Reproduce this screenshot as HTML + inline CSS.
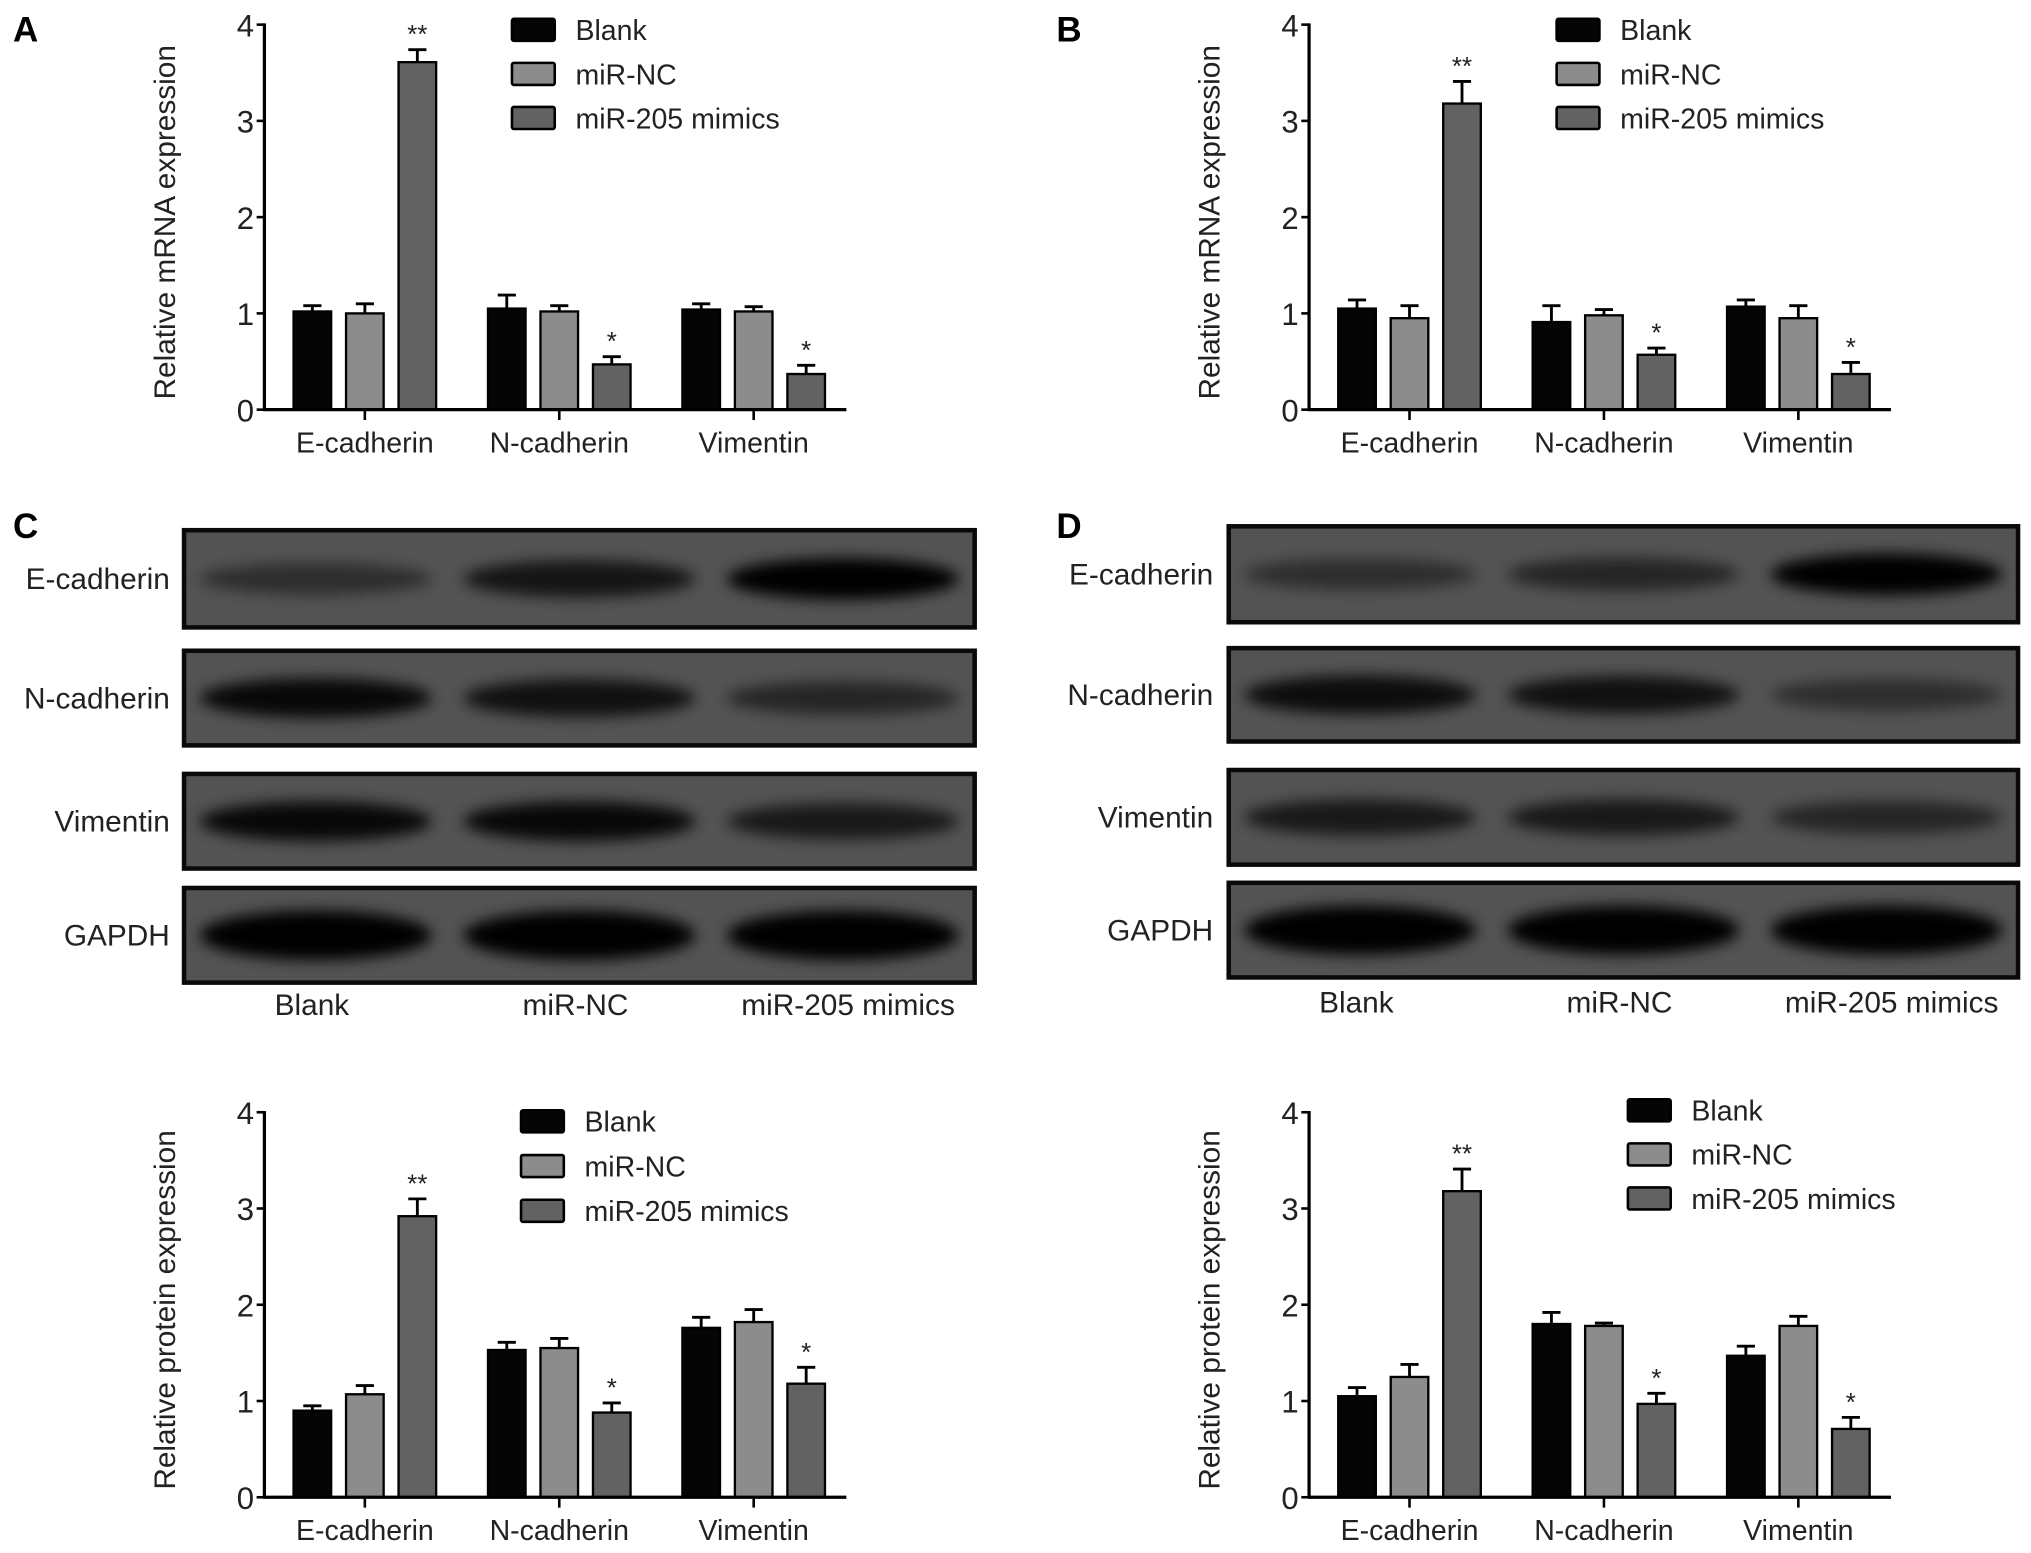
<!DOCTYPE html>
<html><head><meta charset="utf-8">
<style>
html,body{margin:0;padding:0;background:#fff;}
svg{display:block;font-family:"Liberation Sans",Arial,sans-serif;}
</style></head>
<body>
<svg id="fig" width="2031" height="1553" viewBox="0 0 1567 1198" preserveAspectRatio="none" xmlns="http://www.w3.org/2000/svg">
<defs>
<filter id="blur" x="-30%" y="-100%" width="160%" height="300%"><feGaussianBlur stdDeviation="5.5"/></filter>
</defs>
<g id="root"></g>
</svg>
<script>
// ---- shared categories ----
const categories = ["E-cadherin","N-cadherin","Vimentin"];
const seriesNames = ["Blank","miR-NC","miR-205 mimics"];
const yTicks = [0,1,2,3,4];

// ---- Panel A (mRNA) ----
const aBlank = [1.02,1.05,1.04];
const aNC = [1.00,1.02,1.02];
const aMimic = [3.61,0.47,0.37];
const aBlankErr = [1.08,1.19,1.10];
const aNCErr = [1.10,1.08,1.07];
const aMimicErr = [3.74,0.55,0.46];
const aStars = ["**","*","*"];

// ---- Panel B (mRNA) ----
const bBlank = [1.05,0.91,1.07];
const bNC = [0.95,0.98,0.95];
const bMimic = [3.18,0.57,0.37];
const bBlankErr = [1.14,1.08,1.14];
const bNCErr = [1.08,1.04,1.08];
const bMimicErr = [3.41,0.64,0.49];
const bStars = ["**","*","*"];

// ---- Panel C (protein) ----
const cBlank = [0.90,1.53,1.76];
const cNC = [1.07,1.55,1.82];
const cMimic = [2.92,0.88,1.18];
const cBlankErr = [0.95,1.61,1.87];
const cNCErr = [1.16,1.65,1.95];
const cMimicErr = [3.10,0.98,1.35];
const cStars = ["**","*","*"];

// ---- Panel D (protein) ----
const dBlank = [1.05,1.80,1.47];
const dNC = [1.25,1.78,1.78];
const dMimic = [3.18,0.97,0.71];
const dBlankErr = [1.14,1.92,1.57];
const dNCErr = [1.38,1.81,1.88];
const dMimicErr = [3.41,1.08,0.83];
const dStars = ["**","*","*"];

// ---- blot band intensities (rows: E-cad, N-cad, Vimentin, GAPDH; cols: lanes) ----
const blotRows = ["E-cadherin","N-cadherin","Vimentin","GAPDH"];
const blotLanes = ["Blank","miR-NC","miR-205 mimics"];
const cBands = [[0.45,0.75,1],[0.9,0.8,0.55],[0.9,0.9,0.7],[1,1,1]];
const dBands = [[0.45,0.55,1],[0.85,0.8,0.45],[0.7,0.7,0.55],[1,1,1]];

const NS = "http://www.w3.org/2000/svg";
const root = document.getElementById("root");
function mk(tag, attrs, parent){
  const e = document.createElementNS(NS, tag);
  for (const k in attrs) e.setAttribute(k, attrs[k]);
  (parent||root).appendChild(e);
  return e;
}
const fills = ["#050505","#8c8c8c","#626262"];

function chart(name, ax, base, ylabel, series, errs, stars, leg){
  const g = mk("g", {});
  
  
  const H = 297, ppu = H/4;
  const y = v => base - v*ppu;
  const groupX = i => ax + 22.5 + i*150;
  const barX = (i,s) => groupX(i) + s*40.5;
  const bw = 29;
  for (let s=0;s<3;s++){
    for (let i=0;i<categories.length;i++){
      const v = series[s][i], e = errs[s][i];
      const cx = barX(i,s)+bw/2;
      const ln = mk("line",{x1:cx,x2:cx,y1:y(v),y2:y(e),stroke:"#000","stroke-width":2.2},g);
      
      
      const cap = mk("line",{x1:cx-7,x2:cx+7,y1:y(e),y2:y(e),stroke:"#000","stroke-width":2.2},g);
      
      
      const r = mk("rect",{x:barX(i,s),y:y(v),width:bw,height:v*ppu,fill:fills[s],stroke:"#000","stroke-width":1.8},g);
      
      
      if (s===2){
        const t = mk("text",{x:cx,y:y(e)-5,"text-anchor":"middle","font-size":20,fill:"#222"},g);
        t.textContent = stars[i];
        
        
      }
    }
  }
  const yAx = mk("line",{x1:ax,x2:ax,y1:base-H-1,y2:base+1,stroke:"#000","stroke-width":2.5},g);
  
  
  const xAx = mk("line",{x1:ax-1,x2:ax+449,y1:base,y2:base,stroke:"#000","stroke-width":2.5},g);
  
  
  for (const t of yTicks){
    const tk = mk("line",{x1:ax-6,x2:ax,y1:y(t),y2:y(t),stroke:"#000","stroke-width":2},g);
    
    
    const lb = mk("text",{x:ax-8,y:y(t)+9,"text-anchor":"end","font-size":24,fill:"#222"},g);
    lb.textContent = t;
    
    
  }
  for (let i=0;i<categories.length;i++){
    const cx = barX(i,1)+bw/2;
    const tk = mk("line",{x1:cx,x2:cx,y1:base,y2:base+8,stroke:"#000","stroke-width":2},g);
    
    
    const lb = mk("text",{x:cx,y:base+33,"text-anchor":"middle","font-size":22,fill:"#222"},g);
    lb.textContent = categories[i];
    
    
  }
  const yl = mk("text",{x:0,y:0,"text-anchor":"middle","font-size":23,fill:"#222",transform:`translate(${ax-69},${base-H/2+4}) rotate(-90)`},g);
  yl.textContent = ylabel;
  
  
  for (let s=0;s<3;s++){
    const cy = base-H + leg.dy + s*leg.step;
    const bx = mk("rect",{x:ax+leg.dx,y:cy-8.5,width:33,height:17,fill:fills[s],stroke:"#000","stroke-width":2,rx:1.5},g);
    
    
    const lt = mk("text",{x:ax+leg.dx+49,y:cy+8,"font-size":22,fill:"#222"},g);
    lt.textContent = seriesNames[s];
    
    
  }
}

chart("chart-a",204,316,"Relative mRNA expression",[aBlank,aNC,aMimic],[aBlankErr,aNCErr,aMimicErr],aStars,{dx:191,dy:4,step:34});
chart("chart-b",1010,316,"Relative mRNA expression",[bBlank,bNC,bMimic],[bBlankErr,bNCErr,bMimicErr],bStars,{dx:191,dy:4,step:34});
chart("chart-c",204,1155,"Relative protein expression",[cBlank,cNC,cMimic],[cBlankErr,cNCErr,cMimicErr],cStars,{dx:198,dy:7,step:34.5});
chart("chart-d",1010,1155,"Relative protein expression",[dBlank,dNC,dMimic],[dBlankErr,dNCErr,dMimicErr],dStars,{dx:246,dy:-1.5,step:34});

function blot(name, x0, x1, rowsY, bands, labelX, laneLabelY){
  const g = mk("g",{});
  
  
  const w = x1-x0, lw = w/3;
  for (let r=0;r<blotRows.length;r++){
    const [ty,by] = rowsY[r];
    const bg = mk("rect",{x:x0,y:ty,width:w,height:by-ty,fill:"#535353",stroke:"#0a0a0a","stroke-width":3.5},g);
    
    
    const cy = (ty+by)/2;
    for (let l=0;l<3;l++){
      const a = bands[r][l];
      const ry = r===3 ? 19 : 9 + a*7;
      const e = mk("ellipse",{cx:x0+lw*(l+0.5),cy:cy,rx:lw*0.44,ry:ry,fill:"#000","fill-opacity":a,filter:"url(#blur)"},g);
      
      
    }
    const lb = mk("text",{x:labelX,y:cy+8,"text-anchor":"end","font-size":23,fill:"#222"},g);
    lb.textContent = blotRows[r];
    
    
  }
  for (let l=0;l<3;l++){
    const t = mk("text",{x:x0+lw*(l+0.5)+(l===2?4:-3),y:laneLabelY,"text-anchor":"middle","font-size":23,fill:"#222"},g);
    t.textContent = blotLanes[l];
    
    
  }
}
blot("western-blot-c",142,752,[[409,484],[502,575],[597,670],[685,758]],cBands,131,783);
blot("western-blot-d",948,1557,[[406,480],[500,572],[594,667],[681,754]],dBands,936,781);

const letters = [["A",10,32],["B",815,32],["C",10,415],["D",815,415]];
for (const [t,x,yy] of letters){
  const e = mk("text",{x:x,y:yy,"font-size":27,"font-weight":"bold",fill:"#000"});
  e.textContent = t;
  
  
}
</script>
</body></html>
